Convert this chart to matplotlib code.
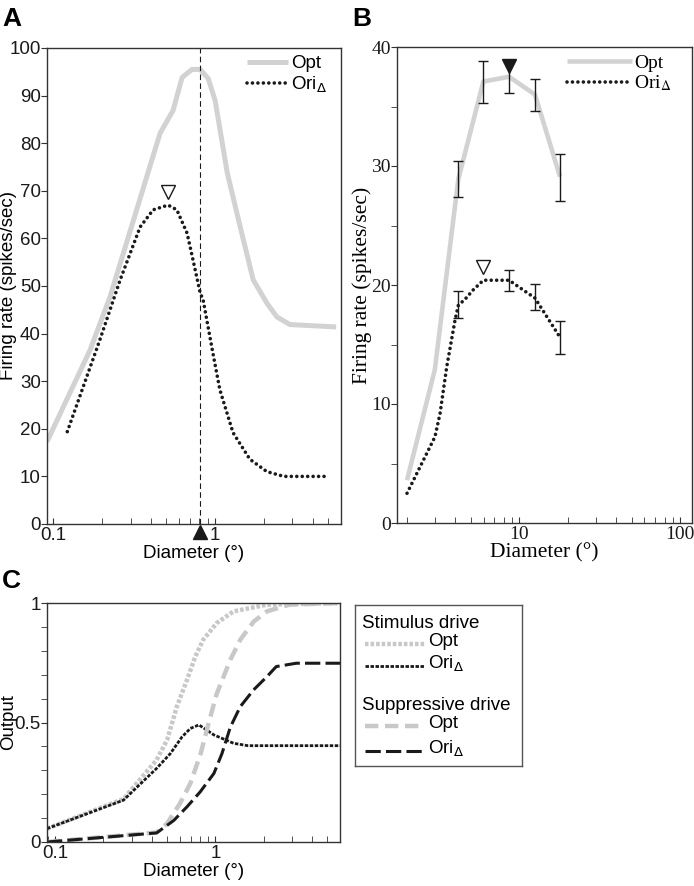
import numpy as np
import matplotlib.pyplot as plt
from matplotlib.ticker import LogLocator, FuncFormatter, NullFormatter, MultipleLocator
import matplotlib.transforms as mtransforms

# --- config ---
GRAY = "#d2d2d2"
INK = "#1a1a1a"
SPINE = "#333333"
SANS = "Liberation Sans"
SERIF = "Liberation Serif"
DOTS = (0, (0.01, 1.5))

plt.rcParams.update({
    "font.family": SANS,
    "font.size": 13.5,
    "axes.edgecolor": SPINE,
    "axes.linewidth": 1.0,
    "xtick.color": SPINE,
    "ytick.color": SPINE,
    "xtick.labelcolor": INK,
    "ytick.labelcolor": INK,
    "mathtext.fontset": "dejavusans",
})

# --- data: panel A (model fit, firing rate vs diameter) ---
a_opt_x = [0.0914, 0.169, 0.224, 0.457, 0.55, 0.625, 0.719, 0.808, 0.906, 1.0,
           1.19, 1.43, 1.72, 2.09, 2.41, 2.9, 5.6]
a_opt_y = [17.3, 36.6, 47.7, 82.1, 86.9, 93.8, 95.5, 95.5, 93.6, 89.0,
           73.7, 62.4, 51.3, 46.4, 43.5, 41.9, 41.4]
a_ori_x = [0.122, 0.194, 0.259, 0.344, 0.414, 0.512, 0.58, 0.671, 0.73, 0.808,
           0.843, 0.968, 1.07, 1.29, 1.64, 2.09, 2.66, 4.79]
a_ori_y = [19.4, 38.7, 51.3, 62.4, 66.0, 67.0, 66.0, 61.1, 55.5, 48.6,
           47.1, 36.0, 28.2, 19.2, 13.6, 11.0, 10.0, 10.0]
a_opt_peak = 0.808
a_ori_peak = (0.512, 69.7)

# --- data: panel B (measured, mean +/- sem) ---
b_diam = [2.0, 2.98, 4.17, 5.97, 8.63, 12.5, 17.9]
b_opt = [3.6, 12.9, 28.9, 37.1, 37.5, 36.0, 29.1]
b_opt_bar_x = [4.17, 5.97, 8.63, 12.5, 17.9]
b_opt_lo = [27.4, 35.3, 36.1, 34.6, 27.1]
b_opt_hi = [30.4, 38.85, 38.8, 37.3, 31.0]
b_ori_curve_x = [2.0, 2.985, 3.21, 3.53, 3.98, 4.17, 4.59, 5.17, 5.97, 8.63, 12.5, 17.9]
b_ori_curve_y = [2.5, 7.25, 9.2, 13.1, 17.06, 18.3, 18.8, 19.6, 20.4, 20.4, 18.9, 15.6]
b_ori_bar_x = [4.17, 8.63, 12.5, 17.9]
b_ori_mid = [18.3, 20.4, 18.9, 15.6]
b_ori_lo = [17.2, 19.5, 17.9, 14.2]
b_ori_hi = [19.5, 21.3, 20.06, 17.0]
b_opt_peak = (8.63, 38.4)
b_ori_peak = (5.97, 21.5)

# --- data: panel C (normalization model drives) ---
c_stim_opt_x = [0.089, 0.267, 0.43, 0.50, 0.575, 0.665, 0.75, 0.84, 1.02, 1.30, 2.1, 6.0]
c_stim_opt_y = [0.056, 0.18, 0.343, 0.427, 0.566, 0.678, 0.776, 0.846, 0.916, 0.965,
                0.993, 1.0]
c_stim_ori_x = [0.089, 0.267, 0.43, 0.524, 0.62, 0.698, 0.79, 0.98, 1.30, 1.6, 6.0]
c_stim_ori_y = [0.056, 0.175, 0.308, 0.37, 0.44, 0.475, 0.49, 0.448, 0.413, 0.403, 0.403]
c_sup_opt_x = [0.089, 0.43, 0.499, 0.60, 0.698, 0.81, 0.908, 1.02, 1.24, 1.43, 1.74,
               2.1, 2.9, 6.0]
c_sup_opt_y = [0.0, 0.04, 0.077, 0.16, 0.245, 0.37, 0.497, 0.62, 0.762, 0.846, 0.923,
               0.965, 0.993, 1.0]
c_sup_ori_x = [0.089, 0.43, 0.55, 0.665, 0.805, 0.98, 1.10, 1.24, 1.43, 1.73, 2.1,
               2.4, 3.2, 6.0]
c_sup_ori_y = [0.0, 0.038, 0.09, 0.147, 0.21, 0.287, 0.37, 0.48, 0.566, 0.636, 0.692,
               0.734, 0.748, 0.748]

W, H = 694, 886
fig = plt.figure(figsize=(W / 100, H / 100), dpi=100)


def box(l, t, r, b):
    return [l / W, 1 - b / H, (r - l) / W, (b - t) / H]


def log_axis(ax, fmt):
    ax.set_xscale("log")
    ax.xaxis.set_major_locator(LogLocator(base=10, subs=(1.0,)))
    ax.xaxis.set_minor_locator(LogLocator(base=10, subs=np.arange(2, 10)))
    ax.xaxis.set_major_formatter(FuncFormatter(lambda v, _: fmt(v)))
    ax.xaxis.set_minor_formatter(NullFormatter())
    ax.tick_params(axis="x", which="both", direction="in", length=4, pad=2)
    ax.tick_params(axis="y", which="both", direction="out", length=4, pad=0.5)


# --- A ---
axA = fig.add_axes(box(47, 48, 341, 524))
log_axis(axA, lambda v: f"{v:g}")
axA.plot(a_opt_x, a_opt_y, color=GRAY, lw=3.6, solid_capstyle="butt", label="Opt")
axA.plot(a_ori_x, a_ori_y, color=INK, lw=2.6, ls=DOTS, dash_capstyle="round",
         label=r"Ori$_\Delta$")
axA.axvline(a_opt_peak, color=INK, lw=0.8, ls=(0, (5, 3)))
axA.plot([a_ori_peak[0]], [a_ori_peak[1]], marker="v", ms=10, mfc="white", mec=INK,
         mew=1.0, ls="none")
trA = mtransforms.blended_transform_factory(axA.transData, axA.transAxes)
axA.plot([a_opt_peak], [-0.016], marker="^", ms=10, color=INK, transform=trA,
         clip_on=False, ls="none")
axA.set_xlim(0.0914, 6.0)
axA.set_ylim(0, 100)
axA.yaxis.set_major_locator(MultipleLocator(10))
axA.set_xlabel("Diameter (°)", labelpad=1)
axA.set_ylabel("Firing rate (spikes/sec)")
axA.yaxis.set_label_coords(-0.102, 0.5)
axA.legend(loc="upper left", bbox_to_anchor=(0.68, 0.985), frameon=False,
           handlelength=2.2, handletextpad=0.15, labelspacing=0.12,
           borderpad=0, borderaxespad=0, fontsize=13.5)

# --- B ---
axB = fig.add_axes(box(397.3, 47, 691.7, 523))
log_axis(axB, lambda v: f"{v:g}")
axB.tick_params(labelfontfamily=SERIF, labelsize=14)
axB.plot(b_diam, b_opt, color=GRAY, lw=3.3, solid_capstyle="butt", label="Opt")
axB.plot(b_ori_curve_x, b_ori_curve_y, color=INK, lw=2.6, ls=DOTS,
         dash_capstyle="round", label=r"Ori$_\Delta$")
opt_mid = [b_opt[b_diam.index(x)] for x in b_opt_bar_x]
axB.errorbar(b_opt_bar_x, opt_mid,
             yerr=[np.subtract(opt_mid, b_opt_lo), np.subtract(b_opt_hi, opt_mid)],
             fmt="none", ecolor=INK, elinewidth=1.0, capsize=3.5, capthick=1.0)
axB.errorbar(b_ori_bar_x, b_ori_mid,
             yerr=[np.subtract(b_ori_mid, b_ori_lo), np.subtract(b_ori_hi, b_ori_mid)],
             fmt="none", ecolor=INK, elinewidth=1.0, capsize=3.5, capthick=1.0)
axB.plot([b_opt_peak[0]], [b_opt_peak[1]], marker="v", ms=10, color=INK, ls="none")
axB.plot([b_ori_peak[0]], [b_ori_peak[1]], marker="v", ms=10, mfc="white", mec=INK,
         mew=1.0, ls="none")
axB.set_xlim(1.74, 118)
axB.set_ylim(0, 40)
axB.yaxis.set_major_locator(MultipleLocator(10))
axB.yaxis.set_minor_locator(MultipleLocator(5))
axB.set_xlabel("Diameter (°)", family=SERIF, fontsize=15.5, labelpad=0)
axB.set_ylabel("Firing rate (spikes/sec)", family=SERIF, fontsize=15.5)
axB.yaxis.set_label_coords(-0.086, 0.5)
legB = axB.legend(loc="upper left", bbox_to_anchor=(0.576, 0.985), frameon=False,
                  handlelength=3.35, handletextpad=0.1, labelspacing=0.1,
                  borderpad=0, borderaxespad=0, prop={"family": SERIF, "size": 14})
for t in legB.get_texts():
    t.set_math_fontfamily("stix")

# --- C ---
axC = fig.add_axes(box(47, 603, 340, 842))
log_axis(axC, lambda v: f"{v:g}")
axC.plot(c_stim_opt_x, c_stim_opt_y, color="#c8c8c8", lw=3.2, ls=(0, (0.8, 0.45)))
axC.plot(c_stim_ori_x, c_stim_ori_y, color=INK, lw=2.0, ls=(0, (1.25, 0.55)))
axC.plot(c_sup_opt_x, c_sup_opt_y, color="#c8c8c8", lw=3.2, ls=(0, (3, 1.5)))
axC.plot(c_sup_ori_x, c_sup_ori_y, color=INK, lw=2.2, ls=(0, (5, 1.7)))
axC.set_xlim(0.089, 6.0)
axC.set_ylim(0, 1)
axC.set_yticks([0, 0.5, 1])
axC.set_yticklabels(["0", "0.5", "1"])
axC.yaxis.set_minor_locator(MultipleLocator(0.1))
axC.set_xlabel("Diameter (°)", labelpad=1)
axC.set_ylabel("Output")
axC.yaxis.set_label_coords(-0.102, 0.5)

# --- C legend (boxed, with group headings) ---
lg = fig.add_axes(box(355, 605, 522, 766))
lg.set_xlim(355, 522)
lg.set_ylim(766, 605)
lg.set_xticks([])
lg.set_yticks([])
for s in lg.spines.values():
    s.set_color("#555555")
lg.text(362, 623, "Stimulus drive", va="center", ha="left")
lg.text(362, 706, "Suppressive drive", va="center", ha="left")
rows = [
    (644, "#c8c8c8", 3.2, (0, (0.8, 0.45)), "Opt"),
    (666, INK, 2.0, (0, (1.25, 0.55)), r"Ori$_\Delta$"),
    (726, "#c8c8c8", 3.2, (0, (3, 1.5)), "Opt"),
    (751, INK, 2.2, (0, (5, 1.7)), r"Ori$_\Delta$"),
]
for y, c, lw, ls, name in rows:
    lg.plot([365, 425], [y, y], color=c, lw=lw, ls=ls)
    lg.text(428, y - 2, name, va="center", ha="left")

# --- panel letters ---
for x, y, s in [(2, 19, "A"), (352, 19, "B"), (2, 581, "C")]:
    fig.text(x / W, 1 - y / H, s, fontsize=19, fontweight="bold", va="center", ha="left")

fig.savefig("out.png", dpi=100, facecolor="white")
